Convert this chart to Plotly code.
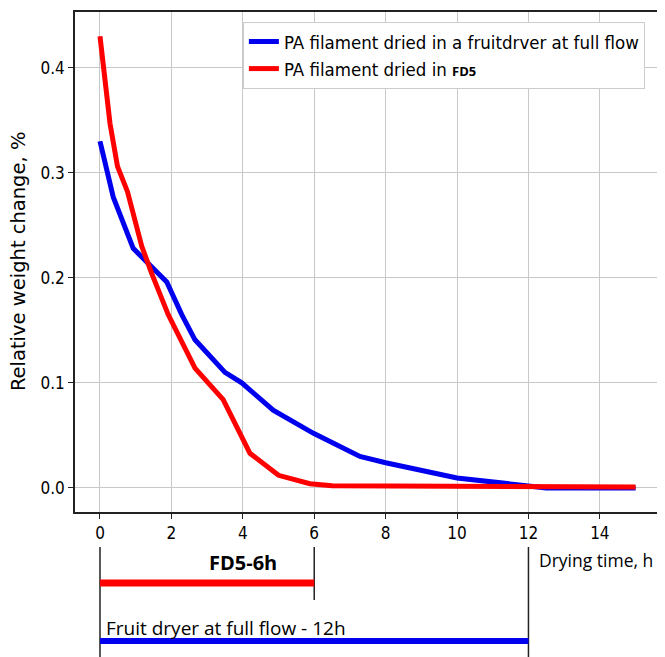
import plotly.graph_objects as go

# Data
fruit_x = [0, 0.37, 0.93, 1.87, 2.29, 2.66, 3.5, 3.97, 4.85, 5.98, 7.28, 8.0, 10.0, 12.0, 12.5, 15.0]
fruit_y = [0.33, 0.277, 0.228, 0.196, 0.165, 0.141, 0.11, 0.10, 0.074, 0.052, 0.030, 0.024, 0.0095, 0.002, 0.0, 0.0]

fd5_x = [0, 0.28, 0.49, 0.77, 1.17, 1.45, 1.91, 2.66, 3.45, 4.2, 5.0, 5.88, 6.5, 15.0]
fd5_y = [0.43, 0.347, 0.306, 0.282, 0.23, 0.204, 0.165, 0.114, 0.084, 0.033, 0.012, 0.004, 0.002, 0.001]

series_names = ["PA filament dried in a fruitdrver at full flow",
                "PA filament dried in <b><span style='font-family:Open Sans;font-size:13px'>FD5</span></b>"]
series_colors = ["#0000ee", "#ff0000"]

x_ticks = [0, 2, 4, 6, 8, 10, 12, 14]
y_ticks = [0.0, 0.1, 0.2, 0.3, 0.4]

durations = [6, 12]          # FD5, fruit dryer (hours)
duration_labels = ["<b>FD5-6h</b>", "Fruit dryer at full flow - 12h"]

MPL = "DejaVu Sans Condensed, DejaVu Sans"
LBL = "Open Sans"

fig = go.Figure()
fig.add_trace(go.Scatter(x=fruit_x, y=fruit_y, mode="lines", name=series_names[0],
                         line=dict(color=series_colors[0], width=5)))
fig.add_trace(go.Scatter(x=fd5_x, y=fd5_y, mode="lines", name=series_names[1],
                         line=dict(color=series_colors[1], width=5)))

shapes = []
shapes.append(dict(type="line", xref="x", yref="paper", x0=0, x1=0, y0=-0.07, y1=-0.30,
                   line=dict(color="#222", width=1.5)))
shapes.append(dict(type="line", xref="x", yref="paper", x0=durations[0], x1=durations[0],
                   y0=-0.07, y1=-0.176, line=dict(color="#222", width=1.5)))
shapes.append(dict(type="line", xref="x", yref="paper", x0=durations[1], x1=durations[1],
                   y0=-0.07, y1=-0.30, line=dict(color="#222", width=1.5)))
shapes.append(dict(type="line", xref="x", yref="paper", x0=0, x1=durations[0],
                   y0=-0.142, y1=-0.142, line=dict(color=series_colors[1], width=7)))
shapes.append(dict(type="line", xref="x", yref="paper", x0=0, x1=durations[1],
                   y0=-0.258, y1=-0.258, line=dict(color=series_colors[0], width=6)))

annotations = [
    dict(text=duration_labels[0], xref="x", yref="paper", x=4, y=-0.10, showarrow=False,
         font=dict(family=LBL, size=20, color="black"), xanchor="center", yanchor="middle"),
    dict(text=duration_labels[1], xref="x", yref="paper", x=0.1, y=-0.232, showarrow=False,
         font=dict(family=LBL, size=19, color="black"), xanchor="left", yanchor="middle"),
    dict(text="Drying time, h", xref="paper", yref="paper", x=0.787, y=-0.096, showarrow=False,
         font=dict(family=LBL, size=17.5, color="black"), xanchor="left", yanchor="middle"),
    dict(text="Relative weight change, %", xref="paper", yref="paper", x=-0.097, y=0.5,
         textangle=-90, showarrow=False, xanchor="center", yanchor="middle",
         font=dict(family="DejaVu Sans", size=19.5, color="black")),
]

fig.update_layout(
    width=657, height=649,
    margin=dict(l=67, r=3, t=4, b=145),
    paper_bgcolor="white", plot_bgcolor="white",
    font=dict(family=MPL, size=16, color="black"),
    showlegend=True,
    legend=dict(x=0.286, y=0.98, xanchor="left", yanchor="top",
                bgcolor="white", bordercolor="#cccccc", borderwidth=1,
                font=dict(family=MPL, size=18.5), tracegroupgap=0),
    shapes=shapes,
    annotations=annotations,
)
fig.update_xaxes(range=[-0.7, 15.74], tickvals=x_ticks, showgrid=True, gridcolor="#c8c8c8",
                 gridwidth=1, zeroline=False, showline=True, linecolor="#222", linewidth=1.5,
                 mirror=True, ticks="outside", ticklen=5, tickcolor="#222", automargin=False,
                 tickfont=dict(family=MPL, size=17))
fig.update_yaxes(range=[-0.0229, 0.453], tickvals=y_ticks, tickformat=".1f", showgrid=True,
                 gridcolor="#c8c8c8", gridwidth=1, zeroline=False, showline=True,
                 linecolor="#222", linewidth=1.5, mirror=True, ticks="outside", ticklen=5,
                 tickcolor="#222", tickfont=dict(family=MPL, size=17), automargin=False)

fig.write_html("out.html")
